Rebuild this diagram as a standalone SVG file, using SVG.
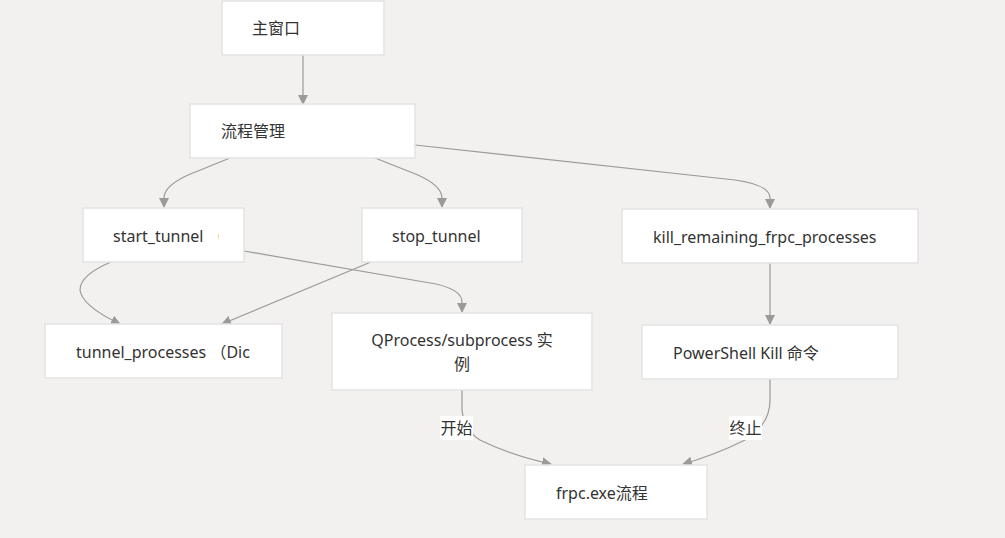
<svg xmlns="http://www.w3.org/2000/svg" width="1005" height="538" viewBox="0 0 1005 538">
<defs>
<style>
.node rect{fill:#ffffff;stroke:#e3e3e3;stroke-width:1.5}
text{font-family:"Noto Sans","Noto Sans CJK SC",sans-serif;font-size:16px;fill:#333333}
.edge{fill:none;stroke:#9a9a9a;stroke-width:1.2}
.lbl rect{fill:#ffffff}
</style>
<marker id="arr" viewBox="0 0 10 10" refX="9" refY="5" markerWidth="10" markerHeight="10" markerUnits="userSpaceOnUse" orient="auto">
<path d="M0,0 L10,5 L0,10 z" fill="#9a9a9a"/>
</marker>
<clipPath id="clipStart"><rect x="83" y="208" width="136" height="54"/></clipPath>
<clipPath id="clipTP"><rect x="45" y="324" width="221" height="54"/></clipPath>
</defs>
<rect width="1005" height="538" fill="#f2f1f0"/>
<g id="connectors">
<path class="edge" marker-end="url(#arr)" d="M303,55 L303,104"/>
<path class="edge" marker-end="url(#arr)" d="M230,158 L188,175 Q164,186 164,198 L164,207"/>
<path class="edge" marker-end="url(#arr)" d="M375,158 L418,175 Q442,186 442,198 L442,207"/>
<path class="edge" marker-end="url(#arr)" d="M415,145 L735,180 Q770,185 770,198 L770,208"/>
<path class="edge" marker-end="url(#arr)" d="M111,262 Q80,275 80,290 Q82,306 120,324"/>
<path class="edge" marker-end="url(#arr)" d="M371,262 L222,324"/>
<path class="edge" marker-end="url(#arr)" d="M244,251 L436,284 Q462,290 462,302 L462,312"/>
<path class="edge" marker-end="url(#arr)" d="M770,263 L770,324"/>
<path class="edge" marker-end="url(#arr)" d="M462,390 L462,410 Q464,430 480,440 Q510,455 551,464"/>
<path class="edge" marker-end="url(#arr)" d="M770,379 L770,400 Q770,425 745,440 Q715,455 683,464"/>
<g class="lbl"><rect x="440" y="416" width="33" height="24"/><text x="456.5" y="434" text-anchor="middle">开始</text></g>
<g class="lbl"><rect x="729" y="416" width="33" height="24"/><text x="745.5" y="434" text-anchor="middle">终止</text></g>
</g>
<g id="n-main" class="node"><rect x="222" y="1" width="162" height="54"/><text x="252" y="34">主窗口</text></g>
<g id="n-flow" class="node"><rect x="190" y="104" width="225" height="54"/><text x="221" y="137">流程管理</text></g>
<g id="n-start" class="node"><rect x="83" y="208" width="161" height="54"/><text x="113" y="242" clip-path="url(#clipStart)">start_tunnel （</text></g>
<g id="n-stop" class="node"><rect x="362" y="208" width="160" height="54"/><text x="392" y="242">stop_tunnel</text></g>
<g id="n-kill" class="node"><rect x="622" y="209" width="296" height="54"/><text x="653" y="243">kill_remaining_frpc_processes</text></g>
<g id="n-tp" class="node"><rect x="45" y="324" width="237" height="54"/><text x="76" y="358" clip-path="url(#clipTP)">tunnel_processes （Dic</text></g>
<g id="n-qp" class="node"><rect x="332" y="313" width="260" height="77"/><text x="462" y="346" text-anchor="middle">QProcess/subprocess 实</text><text x="462" y="370" text-anchor="middle">例</text></g>
<g id="n-ps" class="node"><rect x="642" y="325" width="256" height="54"/><text x="673" y="359">PowerShell Kill 命令</text></g>
<g id="n-frpc" class="node"><rect x="525" y="465" width="182" height="54"/><text x="556" y="499">frpc.exe流程</text></g>
</svg>
